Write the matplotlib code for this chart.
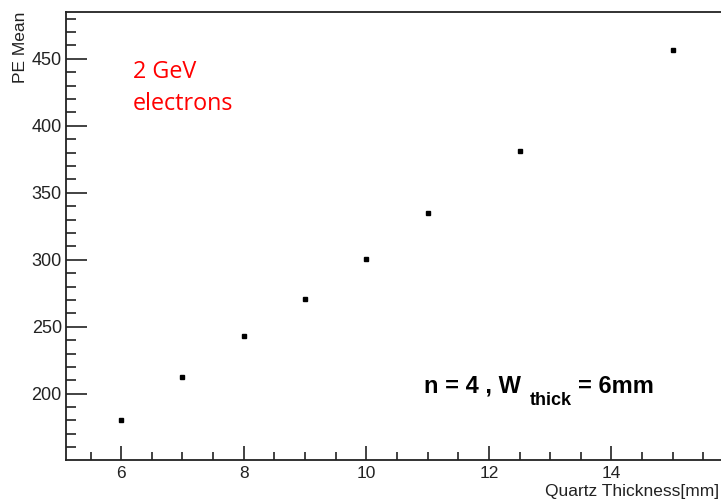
import numpy as np
import matplotlib
matplotlib.use("Agg")
import matplotlib.pyplot as plt
from matplotlib.ticker import MultipleLocator

# data
thickness = [6, 7, 8, 9, 10, 11, 12.5, 15]
pe_mean = [180, 212.5, 243, 270.5, 300.5, 335, 381, 456.5]

x_range = (5.1, 15.95)
y_range = (150.5, 485)

W, H = 721, 499

plt.rcParams["font.family"] = ["Liberation Sans", "DejaVu Sans"]

fig = plt.figure(figsize=(W / 100, H / 100), dpi=100)
ax = fig.add_axes([66 / W, 1 - 460 / H, 665 / W, 448 / H])

ax.errorbar(thickness, pe_mean, yerr=0.9, fmt="s", color="black", ms=2.6,
            ecolor="#3030d0", elinewidth=1.2, capsize=0)

ax.set_xlim(*x_range)
ax.set_ylim(*y_range)

ax.xaxis.set_major_locator(MultipleLocator(2))
ax.xaxis.set_minor_locator(MultipleLocator(0.5))
ax.yaxis.set_major_locator(MultipleLocator(50))
ax.yaxis.set_minor_locator(MultipleLocator(10))
ax.tick_params(which="both", direction="in", top=False, right=False,
               colors="#222222", width=1.2)
ax.tick_params(axis="x", which="major", length=10, pad=4, labelsize=12.5)
ax.tick_params(axis="x", which="minor", length=6)
ax.tick_params(axis="y", which="major", length=15, pad=3, labelsize=13)
ax.tick_params(axis="y", which="minor", length=7.5)
for s in ax.spines.values():
    s.set_linewidth(1.3)
    s.set_color("#222222")
ax.spines["right"].set_visible(False)

ax.set_xlabel("Quartz Thickness[mm]", fontsize=12.5, color="#222222")
ax.xaxis.set_label_coords((719 - 66) / 665, -24 / 448)
ax.xaxis.label.set_horizontalalignment("right")
ax.set_ylabel("PE Mean", fontsize=12.5, color="#222222")
ax.yaxis.set_label_coords(-38 / 665, 1.0)
ax.yaxis.label.set_horizontalalignment("right")

red_font = ["Open Sans", "DejaVu Sans"]
fig.text(133 / W, 1 - 78 / H, "2 GeV", color="red", fontsize=16.8,
         family=red_font, va="baseline", ha="left")
fig.text(133 / W, 1 - 110 / H, "electrons", color="red", fontsize=16.8,
         family=red_font, va="baseline", ha="left")

fig.text(424 / W, 1 - 393 / H, "n = 4 , W", fontsize=17,
         fontweight="bold", color="black", va="baseline", ha="left")
fig.text(530 / W, 1 - 405 / H, "thick", fontsize=13,
         fontweight="bold", color="black", va="baseline", ha="left")
fig.text(578 / W, 1 - 393 / H, "= 6mm", fontsize=17,
         fontweight="bold", color="black", va="baseline", ha="left")

fig.savefig("out.png", dpi=100)
